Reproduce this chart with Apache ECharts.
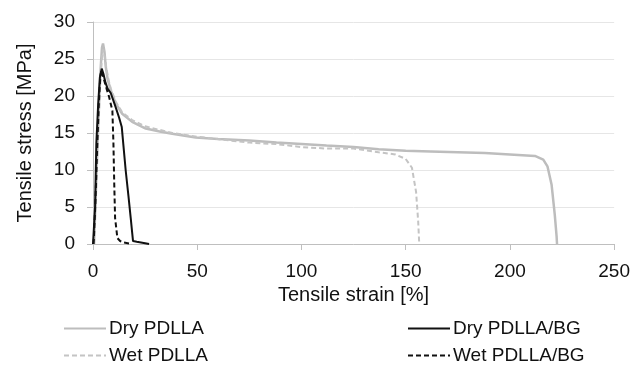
<!DOCTYPE html>
<html>
<head>
<meta charset="utf-8">
<script src="https://cdn.jsdelivr.net/npm/echarts@6/dist/echarts.min.js"></script>
<style>html,body{margin:0;padding:0;background:#fff}#c{width:633px;height:365px}</style>
</head>
<body>
<div id="c"></div>
<script>
var seriesNames = ['Dry PDLLA', 'Wet PDLLA', 'Dry PDLLA/BG', 'Wet PDLLA/BG'];
var xTicks = [0, 50, 100, 150, 200, 250];
var yTicks = [0, 5, 10, 15, 20, 25, 30];

var dryPDLLA = [[0.5,0],[1.5,8],[2.5,16],[3.5,23],[4.3,26.5],[4.8,27.1],[5.5,26],[6.1,24],[7,22.3],[8.5,20.8],[10.9,19],[14,17.6],[18.8,16.5],[25.3,15.6],[32,15.2],[38,14.9],[49.3,14.4],[60,14.2],[75,14.0],[88,13.7],[100,13.5],[112,13.3],[125,13.1],[137,12.8],[150,12.6],[162,12.5],[175,12.4],[188,12.3],[200,12.1],[212,11.9],[216,11.4],[218,10.5],[220,8],[221.5,4],[222.4,1],[222.6,0]];
var wetPDLLA = [[0.5,0],[1.5,7.5],[2.5,15],[3.5,22],[4.4,25.6],[4.9,26.3],[5.6,25.4],[6.3,24],[7.2,22.5],[8.5,21],[11,19.2],[14,17.8],[19,16.7],[25,15.9],[38,15.0],[50,14.5],[62,14.1],[75,13.7],[88,13.5],[100,13.1],[112,12.9],[125,12.9],[137,12.4],[145,12.1],[150,11.5],[153,10.3],[155,7],[156,3],[156.5,0]];
var dryPDLLABG = [[0,0],[1,5],[1.6,13.6],[2.5,19],[3.3,22.5],[4.2,23.7],[5,23],[6,21.8],[7,21],[8.5,20.4],[10.5,18.8],[12.5,17.1],[13.8,15.8],[14.7,13],[15.7,9.9],[17,6.5],[18.1,3.5],[18.8,1.5],[19.2,0.4],[21,0.3],[23,0.2],[25,0.1],[26.9,0]];
var wetPDLLABG = [[0.3,0],[1.2,6],[2,13],[2.8,19],[3.5,22.5],[4,23.5],[5,22.5],[6.5,21],[7.7,19.9],[9.3,18],[9.8,13.6],[10.2,8],[10.6,3.5],[11.7,0.8],[13,0.4],[14.9,0.2],[18.7,0]];

var seriesData = [dryPDLLA, wetPDLLA, dryPDLLABG, wetPDLLABG];
var lineColors = ['#bdbdbd', '#c4c4c4', '#111111', '#111111'];
var lineTypes = ['solid', [5, 3], 'solid', [5, 3]];
var lineWidths = [2.5, 2, 2, 2];

var chart = echarts.init(document.getElementById('c'));
var font = 'Liberation Sans, Arial, sans-serif';
var fs = 19;
function legendItem(name, left, top) {
  return {data: [name], left: left, top: top, itemWidth: 42, itemHeight: 10,
    itemStyle: {opacity: 0},
    textStyle: {fontFamily: font, fontSize: fs, color: '#111', padding: [0,0,0,-2]}};
}
chart.setOption({
  animation: false,
  backgroundColor: '#fff',
  grid: {left: 93, right: 18, top: 22, bottom: 121},
  xAxis: {
    type: 'value', min: xTicks[0], max: xTicks[xTicks.length-1], interval: 50,
    name: 'Tensile strain [%]', nameLocation: 'middle', nameGap: 40,
    nameTextStyle: {fontFamily: font, fontSize: 20, color: '#111'},
    axisLine: {show: true, lineStyle: {color: '#bfbfbf', width: 1}},
    axisTick: {show: true, length: 6, lineStyle: {color: '#bfbfbf'}},
    axisLabel: {fontFamily: font, fontSize: fs, color: '#111', margin: 18},
    splitLine: {show: false}
  },
  yAxis: {
    type: 'value', min: yTicks[0], max: yTicks[yTicks.length-1], interval: 5,
    name: 'Tensile stress [MPa]', nameLocation: 'middle', nameGap: 58,
    nameTextStyle: {fontFamily: font, fontSize: 20, color: '#111'},
    axisLine: {show: true, lineStyle: {color: '#bfbfbf', width: 1}},
    axisTick: {show: true, length: 6, lineStyle: {color: '#bfbfbf'}},
    axisLabel: {fontFamily: font, fontSize: fs, color: '#111', margin: 18},
    splitLine: {show: true, lineStyle: {color: '#e6e6e6', width: 1}}
  },
  legend: [
    legendItem(seriesNames[0], 58, 314),
    legendItem(seriesNames[1], 58, 341),
    legendItem(seriesNames[2], 402, 314),
    legendItem(seriesNames[3], 402, 341)
  ],
  series: seriesData.map(function (d, i) {
    return {
      name: seriesNames[i], type: 'line', data: d, symbol: 'none', smooth: false,
      color: lineColors[i],
      lineStyle: {color: lineColors[i], type: lineTypes[i], width: lineWidths[i]},
      z: i >= 2 ? 3 : 2
    };
  })
});
</script>
</body>
</html>
